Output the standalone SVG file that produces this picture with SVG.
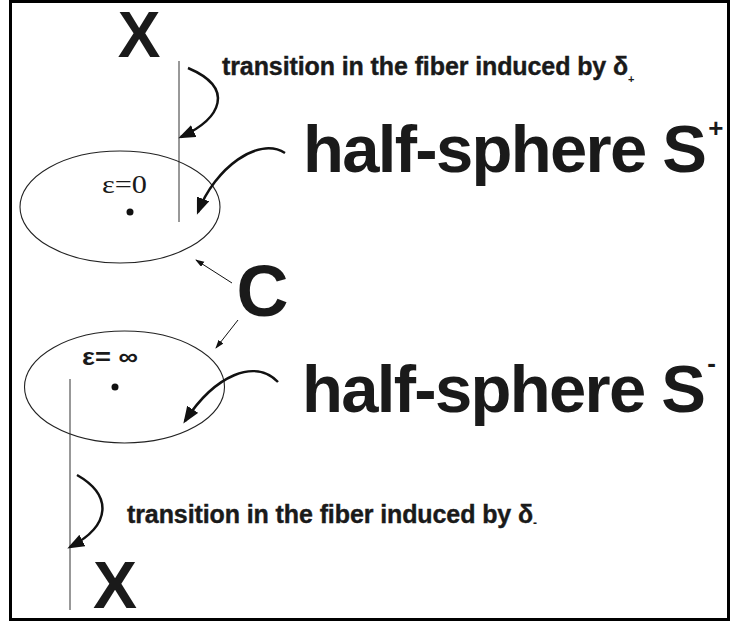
<svg xmlns="http://www.w3.org/2000/svg" width="732" height="623" viewBox="0 0 732 623">
<style>
.sans{font-family:"Liberation Sans",Arial,sans-serif;font-weight:bold;fill:#1a1a1a}
.huge{font-size:67px;letter-spacing:-1.7px}
.mid{font-size:25px;letter-spacing:-0.1px;stroke:#1a1a1a;stroke-width:0.4}
.serif{font-family:"Liberation Serif","Times New Roman",serif;fill:#1a1a1a}
.thin{stroke:#333;stroke-width:1;fill:none}
.oval{stroke:#222;stroke-width:1.1;fill:none}
.curve{stroke:#111;stroke-width:2.5;fill:none;marker-end:url(#ah)}
.ptr{stroke:#111;stroke-width:1;fill:none;marker-end:url(#sah)}
.dot{fill:#111}
</style>
<defs>
<marker id="ah" markerUnits="userSpaceOnUse" markerWidth="20" markerHeight="16" refX="14" refY="6.5" orient="auto"><path d="M0,0 L17,6.5 L0,13 z" fill="#111"/></marker>
<marker id="sah" markerUnits="userSpaceOnUse" markerWidth="12" markerHeight="8" refX="8" refY="3" orient="auto"><path d="M0,0 L9,3 L0,6 z" fill="#111"/></marker>
</defs>
<rect x="0" y="0" width="732" height="623" fill="#fff"/>
<rect x="10.5" y="1.5" width="718" height="618" fill="none" stroke="#000" stroke-width="3"/>

<g id="x-top"><text class="sans" font-size="64" x="139" y="57" text-anchor="middle">X</text></g>
<g id="fiber-top"><line class="thin" x1="179" y1="61" x2="179" y2="222"/></g>
<g id="label-transition-plus"><text class="sans mid" x="222" y="75">transition in the fiber induced by δ<tspan font-size="11" dy="8" stroke-width="0">+</tspan></text></g>
<g id="label-s-plus"><text class="sans huge" x="303" y="172">half-sphere S<tspan font-size="26" dy="-35" dx="3">+</tspan></text></g>
<g id="sphere-s-plus">
<ellipse class="oval" cx="120" cy="207" rx="100" ry="56"/>
<text class="serif" x="102" y="193" font-size="26" textLength="45" lengthAdjust="spacingAndGlyphs">ε=0</text>
<circle class="dot" cx="130" cy="212" r="3.5"/>
</g>
<g id="c"><text class="sans" font-size="72" x="262.5" y="316" text-anchor="middle">C</text></g>
<g id="sphere-s-minus">
<ellipse class="oval" cx="124.5" cy="387" rx="100" ry="56"/>
<text class="sans" x="82" y="365" font-size="24" textLength="56" lengthAdjust="spacingAndGlyphs">ε= ∞</text>
<circle class="dot" cx="115" cy="387" r="3.5"/>
</g>
<g id="label-s-minus"><text class="sans huge" x="302" y="412">half-sphere S<tspan font-size="26" dy="-40" dx="3">-</tspan></text></g>
<g id="fiber-bottom"><line class="thin" x1="70" y1="379" x2="70" y2="610"/></g>
<g id="label-transition-minus"><text class="sans mid" x="127" y="523">transition in the fiber induced by δ<tspan font-size="12" dy="4" stroke-width="0">-</tspan></text></g>
<g id="x-bottom"><text class="sans" x="115" y="608" text-anchor="middle" font-size="66">X</text></g>

<g id="connectors">
<path class="curve" d="M188,68 C235,88 222,118 181,137"/>
<path class="curve" d="M285,153 C258,136 215,168 198,212"/>
<path class="curve" d="M278,382 C255,358 215,375 185,421"/>
<path class="curve" d="M77,475 C112,495 112,525 70,547"/>
<path class="ptr" d="M232,283 L196,260"/>
<path class="ptr" d="M238,320 L216,348"/>
</g>
</svg>
